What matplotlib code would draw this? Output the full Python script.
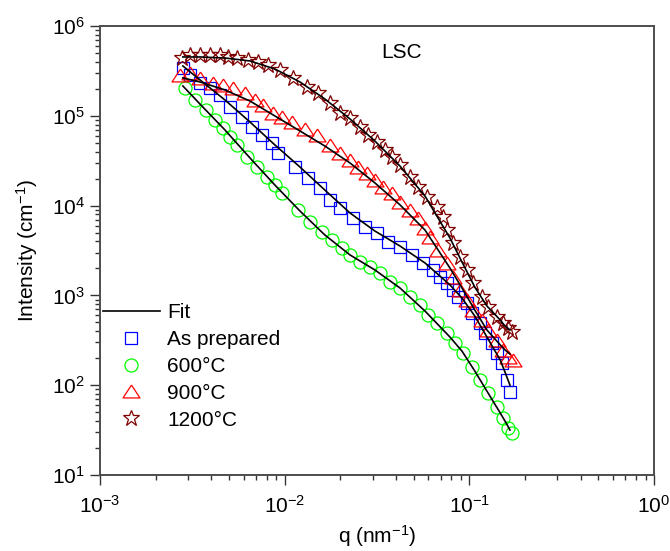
import numpy as np
import matplotlib
matplotlib.use("Agg")
from matplotlib import pyplot as plt
from matplotlib.ticker import LogLocator, NullFormatter

plt.rcParams['font.family'] = ['Liberation Sans', 'DejaVu Sans']
plt.rcParams['mathtext.default'] = 'regular'
plt.rcParams['axes.unicode_minus'] = False

# ---- data ----
# As prepared (blue squares)
q_prep = [0.00281, 0.00307, 0.00348, 0.00394, 0.00447, 0.00506, 0.00588, 0.00666,
          0.00754, 0.00854, 0.00920, 0.0114, 0.0134, 0.0155, 0.0176, 0.0199, 0.0234,
          0.0272, 0.0316, 0.0362, 0.0421, 0.0489, 0.0558, 0.0633, 0.0693, 0.0758,
          0.0815, 0.0864, 0.0966, 0.104, 0.114, 0.121, 0.133, 0.141, 0.150, 0.159, 0.166]
I_prep = [3.41e5, 2.85e5, 2.32e5, 2.04e5, 1.71e5, 1.25e5, 9.7e4, 7.5e4,
          6.11e4, 4.98e4, 3.85e4, 2.69e4, 2.03e4, 1.57e4, 1.15e4, 9.4e3, 7.28e3,
          5.78e3, 4.95e3, 3.94e3, 3.46e3, 2.82e3, 2.30e3, 1.92e3, 1.60e3, 1.37e3,
          1.15e3, 959, 823, 637, 493, 381, 295, 229, 177, 114, 84]

# 600 C (green circles)
q_600 = [0.00288, 0.00327, 0.00375, 0.00419, 0.00463, 0.00506, 0.00552, 0.00625,
         0.00708, 0.00802, 0.00886, 0.00966, 0.0118, 0.0137, 0.0159, 0.0180, 0.0204,
         0.0226, 0.0256, 0.0290, 0.0328, 0.0372, 0.0421, 0.0477, 0.0541, 0.0597,
         0.0668, 0.0757, 0.0836, 0.0923, 0.103, 0.114, 0.126, 0.141, 0.152, 0.162, 0.170]
I_600 = [2.04e5, 1.50e5, 1.16e5, 8.98e4, 7.31e4, 5.81e4, 4.73e4, 3.48e4,
         2.69e4, 2.08e4, 1.69e4, 1.38e4, 8.93e3, 6.56e3, 5.08e3, 4.14e3, 3.37e3,
         2.82e3, 2.36e3, 2.07e3, 1.77e3, 1.41e3, 1.21e3, 959, 782, 605,
         493, 381, 295, 229, 160, 114, 82, 57, 43, 33, 29.4]

# 900 C (red triangles)
q_900 = [0.00271, 0.00307, 0.00348, 0.00409, 0.00463, 0.00525, 0.00610, 0.00690,
         0.00763, 0.00864, 0.00966, 0.0110, 0.0129, 0.0150, 0.0176, 0.0199, 0.0226,
         0.0249, 0.0279, 0.0308, 0.0341, 0.0381, 0.0421, 0.0477, 0.0527, 0.0575,
         0.0612, 0.0676, 0.0757, 0.0815, 0.0889, 0.0971, 0.1045, 0.117, 0.126,
         0.141, 0.152, 0.162, 0.172]
I_900 = [2.85e5, 3.00e5, 2.64e5, 2.32e5, 2.20e5, 2.04e5, 1.79e5, 1.50e5,
         1.32e5, 1.07e5, 9.7e4, 8.53e4, 7.13e4, 6.11e4, 4.73e4, 3.85e4, 3.22e4,
         2.69e4, 2.31e4, 1.93e4, 1.61e4, 1.38e4, 1.10e4, 8.93e3, 7.28e3, 5.63e3,
         4.47e3, 3.21e3, 2.30e3, 1.60e3, 1.15e3, 889, 688, 532, 412,
         318, 247, 206, 191]

# 1200 C (dark red stars)
q_1200 = [0.00278, 0.00307, 0.00348, 0.00394, 0.00447, 0.00493, 0.00552, 0.00632,
          0.00716, 0.00812, 0.00944, 0.0111, 0.0132, 0.0151, 0.0176, 0.0199, 0.0226,
          0.0256, 0.0282, 0.0316, 0.0349, 0.0381, 0.0421, 0.0477, 0.0527, 0.0589,
          0.0668, 0.0720, 0.0757, 0.0815, 0.0889, 0.0971, 0.1045, 0.117, 0.126,
          0.141, 0.152, 0.162, 0.170]
I_1200 = [4.40e5, 4.75e5, 4.75e5, 4.75e5, 4.75e5, 4.52e5, 4.40e5, 4.18e5,
          3.97e5, 3.68e5, 3.24e5, 2.64e5, 2.09e5, 1.79e5, 1.39e5, 1.07e5, 9.46e4,
          7.5e4, 6.11e4, 5.11e4, 4.16e4, 3.48e4, 2.83e4, 2.08e4, 1.61e4, 1.25e4,
          9.64e3, 7.46e3, 5.35e3, 3.84e3, 2.68e3, 1.92e3, 1.37e3, 959, 743,
          574, 493, 434, 391]

# fit curves (black lines), common q grid
q_fit = [0.00281, 0.00348, 0.00475, 0.00649, 0.00886, 0.0121, 0.0165, 0.0226, 0.0308,
         0.0421, 0.0575, 0.0785, 0.0912, 0.107, 0.1245, 0.147, 0.156, 0.166]
fit_prep = [3.59e5, 2.51e5, 1.50e5, 8.53e4, 4.73e4, 2.69e4, 1.49e4, 8.27e3, 5.21e3,
            3.55e3, 2.30e3, 1.31e3, 935, 590, 344, 191, 140, 100]
fit_600 = [2.15e5, 1.35e5, 6.95e4, 3.39e4, 1.69e4, 8.71e3, 4.71e3, 2.82e3, 1.92e3,
           1.21e3, 670, 344, 240, 144, 86, 49, 39.9, 31.7]
fit_900 = [2.64e5, 2.38e5, 1.94e5, 1.46e5, 9.95e4, 6.78e4, 4.61e4, 2.98e4, 1.79e4,
           1.02e4, 5.35e3, 2.02e3, 1.21e3, 688, 412, 281, 247, 222]
fit_1200 = [4.52e5, 4.52e5, 4.40e5, 4.08e5, 3.32e5, 2.38e5, 1.54e5, 9.21e4, 5.24e4,
            2.76e4, 1.28e4, 4.36e3, 2.36e3, 1.24e3, 762, 532, 456, 412]

labels = ['As prepared', '600\u00b0C', '900\u00b0C', '1200\u00b0C']

# flattened up-triangle like the Origin symbol
tri = [(0, 0.38), (-0.5, -0.38), (0.5, -0.38), (0, 0.38)]

fs = 15

fig = plt.figure(figsize=(6.7, 5.51), dpi=100)
ax = fig.add_axes([100/670, 1 - 475/551, 554/670, 449/551])

fit_kw = dict(color='k', lw=1.2, zorder=3)
ax.plot(q_fit, fit_prep, label='Fit', **fit_kw)
ax.plot(q_fit, fit_600, **fit_kw)
ax.plot(q_fit, fit_900, **fit_kw)
ax.plot(q_fit, fit_1200, **fit_kw)

ax.plot(q_prep, I_prep, ls='none', marker='s', ms=8.6, mfc='none', mec='#0000ff',
        mew=0.9, label=labels[0], zorder=2)
ax.plot(q_600, I_600, ls='none', marker='o', ms=9.4, mfc='none', mec='#00ff00',
        mew=0.9, label=labels[1], zorder=2)
ax.plot(q_900, I_900, ls='none', marker=tri, ms=12.2, mfc='none', mec='#ff0000',
        mew=0.9, label=labels[2], zorder=2)
ax.plot(q_1200, I_1200, ls='none', marker='*', ms=12, mfc='none', mec='#7f0000',
        mew=0.9, label=labels[3], zorder=2)

ax.set_xscale('log')
ax.set_yscale('log')
ax.set_xlim(1e-3, 1)
ax.set_ylim(1e1, 1e6)

ax.xaxis.set_minor_locator(LogLocator(base=10, subs=np.arange(2, 10)))
ax.yaxis.set_minor_locator(LogLocator(base=10, subs=np.arange(2, 10)))
ax.xaxis.set_minor_formatter(NullFormatter())
ax.yaxis.set_minor_formatter(NullFormatter())

ax.tick_params(which='major', direction='out', length=7, width=1, labelsize=fs,
               color='#333333')
ax.tick_params(axis='x', which='major', pad=7)
ax.tick_params(axis='y', which='major', pad=4)
ax.tick_params(which='minor', direction='out', length=3.5, width=1, color='#333333')
ax.tick_params(top=False, right=False, which='both')

for s in ax.spines.values():
    s.set_linewidth(1.4)
    s.set_color('#4d4d4d')

ax.set_xlabel('q (nm$^{-1}$)', fontsize=fs, labelpad=5)
ax.set_ylabel('Intensity (cm$^{-1}$)', fontsize=fs, labelpad=8)

ax.text(0.545, 0.94, 'LSC', transform=ax.transAxes, fontsize=fs,
        ha='center', va='center')

ax.legend(loc='upper left', bbox_to_anchor=(0.005, 0.383), frameon=False,
          fontsize=fs, handlelength=2.75, handletextpad=0.35, labelspacing=0.38,
          borderpad=0, borderaxespad=0)

fig.savefig('out.png', dpi=100)
